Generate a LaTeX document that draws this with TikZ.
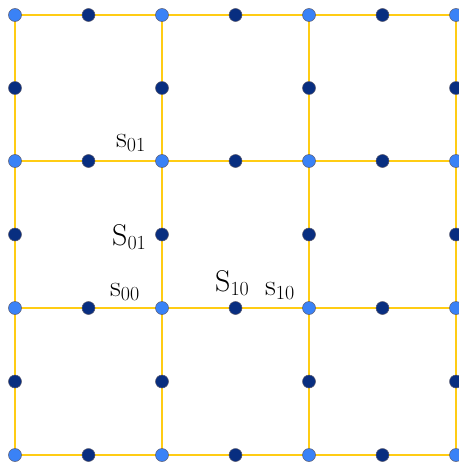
\documentclass[tikz,border=0pt]{standalone}
\usepackage{tikz}
\definecolor{gridyellow}{RGB}{255,204,20}
\definecolor{lightdot}{RGB}{58,130,246}
\definecolor{darkdot}{RGB}{8,46,128}
\definecolor{dotrim}{RGB}{90,90,110}
\newcommand\mysub[1]{\raisebox{-4.5pt}{\fontsize{20}{21}\selectfont #1}}
\tikzset{
  gridline/.style={draw=gridyellow, line width=1.8pt},
  vdot/.style={circle, fill=lightdot, draw=dotrim, line width=0.5pt, minimum size=13pt, inner sep=0pt},
  mdot/.style={circle, fill=darkdot, draw=dotrim, line width=0.5pt, minimum size=13pt, inner sep=0pt},
  lbl/.style={inner sep=0pt, font=\fontsize{30}{33}\selectfont}
}
\begin{document}
\begin{tikzpicture}[x=1pt,y=-1pt]
\useasboundingbox (0,0) rectangle (458,463);
% vertex coordinates
\foreach \i/\x in {0/15,1/162,2/309,3/456}{
  \foreach \j/\y in {0/15,1/161,2/308,3/455}{
    \coordinate (p-\i-\j) at (\x,\y);
  }
}
% grid lines
\foreach \i in {0,1,2,3}{
  \draw[gridline] (p-\i-0) -- (p-\i-3);
  \draw[gridline] (p-0-\i) -- (p-3-\i);
}
% midpoint dots on horizontal edges
\foreach \i/\x in {0/88.5,1/235.5,2/382.5}{
  \foreach \j/\y in {0/15,1/161,2/308,3/455}{
    \node[mdot] (h-\i-\j) at (\x,\y) {};
  }
}
% midpoint dots on vertical edges
\foreach \i/\x in {0/15,1/162,2/309,3/456}{
  \foreach \j/\y in {0/88,1/234.5,2/381.5}{
    \node[mdot] (w-\i-\j) at (\x,\y) {};
  }
}
% vertex dots
\foreach \i in {0,1,2,3}{
  \foreach \j in {0,1,2,3}{
    \node[vdot] (v-\i-\j) at (p-\i-\j) {};
  }
}
% labels (anchored at baseline-left)
\node[lbl, anchor=base west] (l1) at (116,147) {s\mysub{01}};
\node[lbl, anchor=base west] (l2) at (112,245) {S\mysub{01}};
\node[lbl, anchor=base west] (l3) at (110,296) {s\mysub{00}};
\node[lbl, anchor=base west] (l4) at (215,291) {S\mysub{10}};
\node[lbl, anchor=base west] (l5) at (265,295) {s\mysub{10}};
\end{tikzpicture}
\end{document}
